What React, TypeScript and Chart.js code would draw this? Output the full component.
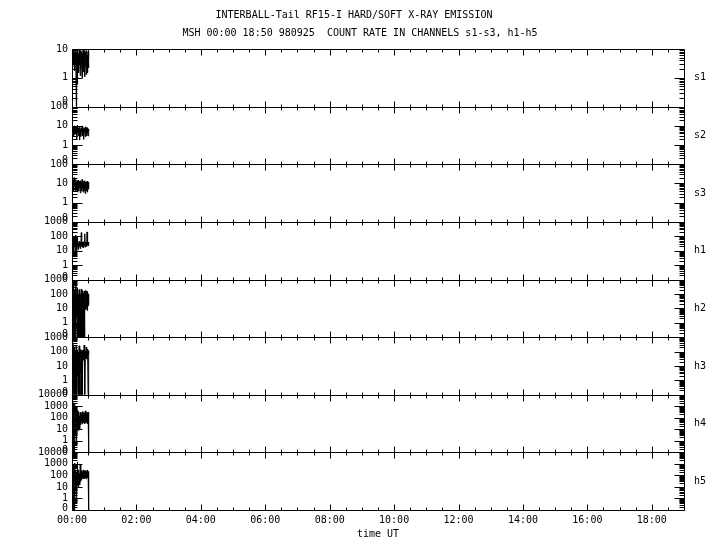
import React, { useEffect, useRef } from 'react';
import { Chart, registerables } from 'chart.js';

Chart.register(...registerables);

const FONT = '"DejaVu Sans Mono", "Liberation Mono", monospace';

const TITLE_LINES = [
  'INTERBALL-Tail RF15-I HARD/SOFT X-RAY EMISSION  ',
  'MSH 00:00 18:50 980925  COUNT RATE IN CHANNELS s1-s3, h1-h5',
];
const X_TITLE = 'time UT';

const PANEL_NAMES = ['s1', 's2', 's3', 'h1', 'h2', 'h3', 'h4', 'h5'];
const PANEL_MAX = [10, 100, 100, 1000, 1000, 1000, 10000, 10000];
const PANEL_MIN = 0.1; // plotted position of a zero count
const ZERO_LABEL_AT = 0.15;

const X_MIN_H = 0;
const X_MAX_H = 19;
const X_TICK_HOURS = [0, 2, 4, 6, 8, 10, 12, 14, 16, 18];

// sample times, seconds after 00:00 UT
const SAMPLE_SEC = [
  0, 40, 80, 120, 160, 200, 240, 280, 320, 360, 400, 440, 480, 520, 560, 600,
  640, 680, 720, 760, 800, 840, 880, 920, 960, 1000, 1040, 1080, 1120, 1160, 1200, 1240,
  1280, 1320, 1360, 1400, 1440, 1480, 1520, 1560, 1600, 1640, 1680, 1720, 1760, 1800, 1840, 1880,
];

const S1 = [5, 9, 2, 8, 3, 10, 2.5, 7, 1.8, 9, 3, 6, 0, 8, 2, 0.6, 9, 2.2, 7, 1.5, 10, 2.8, 6, 1.2, 9, 2, 8, 3, 1, 7, 2.4, 10, 1.6, 6, 2, 9, 1.1, 8, 2.6, 7, 1.3, 9, 2, 6, 1.5, 8, 2.2, 5];
const S2 = [6, 8, 4, 9, 3, 7, 5, 10, 3.5, 8, 4, 6, 9, 2, 7, 4.5, 11, 3, 8, 5, 6, 1.8, 9, 4, 7, 2.8, 8, 5, 6, 3, 10, 4, 7, 2, 8, 5, 6, 2.7, 9, 4, 7, 3, 8, 4.5, 6, 3, 7, 5];
const S3 = [12, 5, 18, 6, 15, 4, 20, 7, 13, 5, 16, 4, 11, 6, 14, 3.5, 12, 5, 15, 4, 10, 6, 13, 3.2, 14, 5, 11, 4, 16, 6, 12, 3.5, 13, 5, 10, 4, 14, 3, 12, 5, 11, 4, 13, 3.5, 10, 5, 12, 6];
const H1 = [60, 12, 110, 15, 80, 8, 95, 20, 50, 7, 120, 14, 70, 10, 90, 18, 40, 12, 35, 16, 45, 20, 30, 14, 38, 18, 180, 22, 40, 17, 35, 20, 42, 16, 30, 24, 150, 18, 40, 22, 35, 20, 200, 25, 38, 22, 40, 30];
const H2 = [1000, 0, 300, 0, 800, 5, 200, 0, 150, 0, 400, 0, 120, 3, 250, 0, 180, 0, 90, 0, 200, 0, 150, 8, 100, 0, 220, 0, 130, 0, 170, 2, 110, 0, 160, 0, 90, 12, 180, 8, 140, 10, 120, 7, 150, 15, 100, 20];
const H3 = [900, 0, 600, 0, 300, 4, 200, 0, 150, 0, 120, 0, 280, 0, 100, 2, 130, 0, 90, 0, 250, 0, 110, 0, 140, 3, 100, 0, 120, 0, 90, 30, 130, 25, 280, 40, 0, 50, 120, 35, 200, 30, 100, 45, 150, 0, 120, 60];
const H4 = [0, 800, 0, 2000, 0, 600, 0, 400, 1500, 20, 300, 10, 0.5, 250, 15, 500, 12, 200, 8, 350, 20, 150, 10, 300, 25, 120, 40, 280, 30, 350, 45, 200, 35, 300, 50, 250, 30, 400, 40, 220, 35, 300, 45, 260, 30, 320, 40, 0];
const H5 = [0, 300, 0, 900, 0, 200, 0, 150, 1200, 15, 250, 10, 0.6, 200, 12, 1500, 20, 180, 10, 300, 25, 150, 15, 800, 30, 200, 40, 250, 55, 180, 60, 300, 50, 220, 65, 260, 55, 200, 60, 280, 50, 240, 70, 300, 60, 220, 55, 0];

const PANEL_SERIES = [S1, S2, S3, H1, H2, H3, H4, H5];

function yTickValues(max: number): number[] {
  const out = [ZERO_LABEL_AT];
  for (let v = 1; v <= max; v *= 10) out.push(v);
  return out;
}

function fmtHour(v: number): string {
  const h = Math.round(v);
  return (h < 10 ? '0' : '') + h + ':00';
}

const panelFrames = {
  id: 'panelFrames',
  afterDatasetsDraw(chart: any) {
    const { ctx, chartArea } = chart;
    const xs = chart.scales.x;
    const L = Math.round(chartArea.left) + 0.5;
    const R = Math.round(chartArea.right) + 0.5;
    ctx.save();
    ctx.strokeStyle = '#000';
    ctx.lineWidth = 1;
    ctx.beginPath();
    PANEL_NAMES.forEach((_n, k) => {
      const ys = chart.scales['y' + k];
      const T = Math.round(ys.top) + 0.5;
      const B = Math.round(ys.bottom) + 0.5;
      ctx.rect(L, T, R - L, B - T);
      for (let h = X_MIN_H; h <= X_MAX_H; h += 0.5) {
        const px = Math.round(xs.getPixelForValue(h)) + 0.5;
        const len = h % 2 === 0 ? 6 : 3;
        ctx.moveTo(px, T);
        ctx.lineTo(px, T + len);
        ctx.moveTo(px, B);
        ctx.lineTo(px, B - len);
      }
      const max = PANEL_MAX[k];
      const topExp = Math.round(Math.log10(max));
      for (let e = -1; e < topExp; e++) {
        const dec = Math.pow(10, e);
        for (let m = 1; m <= 9; m++) {
          if (e === -1 && m === 1) continue;
          const v = dec * m;
          const py = Math.round(ys.getPixelForValue(v)) + 0.5;
          const len = m === 1 ? 10 : 5;
          ctx.moveTo(L, py);
          ctx.lineTo(L + len, py);
          ctx.moveTo(R, py);
          ctx.lineTo(R - len, py);
        }
      }
    });
    ctx.stroke();
    ctx.fillStyle = '#000';
    ctx.font = '10px ' + FONT;
    ctx.textAlign = 'left';
    ctx.textBaseline = 'middle';
    PANEL_NAMES.forEach((name, k) => {
      const ys = chart.scales['y' + k];
      ctx.fillText(name, chartArea.right + 10, (ys.top + ys.bottom) / 2);
    });
    ctx.restore();
  },
};

export default function App() {
  const ref = useRef<HTMLCanvasElement>(null);

  useEffect(() => {
    if (!ref.current) return;
    const tickFont = { family: FONT, size: 10, weight: 'normal' as const };

    const scales: any = {
      x: {
        type: 'linear',
        min: X_MIN_H,
        max: X_MAX_H,
        position: 'bottom',
        grid: { display: false, drawTicks: false },
        border: { display: false },
        ticks: {
          font: tickFont,
          color: '#000',
          padding: 4,
          autoSkip: false,
          maxRotation: 0,
          callback: (v: any) => fmtHour(Number(v)),
        },
        afterBuildTicks: (s: any) => {
          s.ticks = X_TICK_HOURS.map((v) => ({ value: v }));
        },
        afterFit: (s: any) => {
          s.height = 40;
          s.paddingLeft = 0;
          s.paddingRight = 0;
        },
        title: {
          display: true,
          text: X_TITLE,
          font: tickFont,
          color: '#000',
          padding: { top: 0, bottom: 10 },
        },
      },
      // empty right-hand margin column that holds the panel names
      yMargin: {
        type: 'linear',
        position: 'right',
        display: true,
        grid: { display: false, drawTicks: false },
        border: { display: false },
        ticks: { display: false },
        afterFit: (s: any) => {
          s.width = 36;
          s.paddingTop = 0;
          s.paddingBottom = 0;
        },
      },
    };

    PANEL_NAMES.forEach((_n, k) => {
      scales['y' + k] = {
        type: 'logarithmic',
        min: PANEL_MIN,
        max: PANEL_MAX[k],
        position: 'left',
        stack: 'panels',
        stackWeight: 1,
        weight: PANEL_NAMES.length - k,
        grid: { display: false, drawTicks: false },
        border: { display: false },
        ticks: {
          font: tickFont,
          color: '#000',
          padding: 4,
          autoSkip: false,
          callback: (v: any) => (Number(v) < 0.5 ? '0' : String(v)),
        },
        afterBuildTicks: (s: any) => {
          s.ticks = yTickValues(PANEL_MAX[k]).map((v) => ({ value: v }));
        },
        afterFit: (s: any) => {
          s.width = 72;
          s.paddingTop = 0;
          s.paddingBottom = 0;
        },
      };
    });

    const datasets = PANEL_SERIES.map((vals, k) => ({
      label: PANEL_NAMES[k],
      data: SAMPLE_SEC.map((sec, i) => ({
        x: sec / 3600,
        y: vals[i] > 0 ? vals[i] : PANEL_MIN,
      })),
      yAxisID: 'y' + k,
      xAxisID: 'x',
      borderColor: '#000',
      borderWidth: 1,
      pointRadius: 0,
      fill: false,
      tension: 0,
    }));

    const chart = new Chart(ref.current, {
      type: 'line',
      data: { datasets },
      options: {
        animation: false,
        responsive: false,
        maintainAspectRatio: false,
        devicePixelRatio: 1,
        layout: { padding: 0 },
        plugins: {
          legend: { display: false },
          tooltip: { enabled: false },
          title: {
            display: true,
            text: TITLE_LINES,
            color: '#000',
            font: { family: FONT, size: 10, weight: 'normal', lineHeight: 1.8 },
            padding: { top: 6, bottom: 7 },
          },
        },
        scales,
      },
      plugins: [panelFrames],
    } as any);

    return () => chart.destroy();
  }, []);

  return (
    <div style={{ position: 'absolute', left: 0, top: 0, width: 720, height: 550, background: '#fff' }}>
      <canvas ref={ref} width={720} height={550} style={{ display: 'block' }} />
    </div>
  );
}
